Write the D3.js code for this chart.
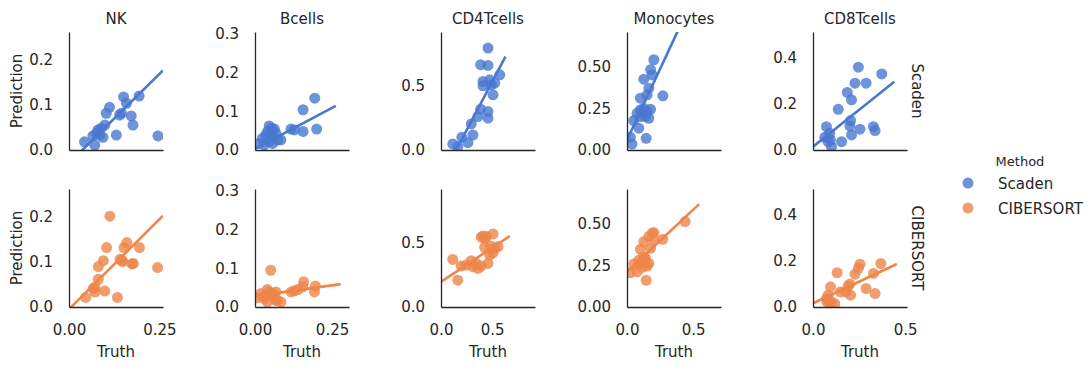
<!DOCTYPE html>
<html>
<head>
<meta charset="utf-8">
<script src="https://cdn.jsdelivr.net/npm/d3@7"></script>
<style>
  body { margin: 0; background: #fff; }
  svg { font-family: "DejaVu Sans", sans-serif; }
</style>
</head>
<body>
<div id="chart"></div>
<script>
const cellTypes = ['NK', 'Bcells', 'CD4Tcells', 'Monocytes', 'CD8Tcells'];
const methods = ['Scaden', 'CIBERSORT'];
const methodColors = ['#4878d0', '#ee854a'];

// axis upper limit per column (x and y share it)
const axisMax = [0.26, 0.305, 0.92, 0.71, 0.51];
const yTicks = [[0, 0.1, 0.2], [0, 0.1, 0.2, 0.3], [0, 0.5], [0, 0.25, 0.5], [0, 0.2, 0.4]];
const yTickLabels = [['0.0', '0.1', '0.2'], ['0.0', '0.1', '0.2', '0.3'], ['0.0', '0.5'], ['0.00', '0.25', '0.50'], ['0.0', '0.2', '0.4']];
const xTicks = [[0, 0.25], [0, 0.25], [0, 0.5], [0, 0.5], [0, 0.5]];
const xTickLabels = [['0.00', '0.25'], ['0.00', '0.25'], ['0.0', '0.5'], ['0.0', '0.5'], ['0.0', '0.5']];

// [truth, prediction]
const scadenNK = [[.043,.018],[.071,.011],[.066,.031],[.080,.044],[.085,.033],[.094,.028],[.076,.037],[.089,.048],[.099,.055],[.103,.081],[.112,.094],[.131,.033],[.145,.081],[.151,.117],[.159,.103],[.172,.075],[.177,.055],[.194,.119],[.246,.031],[.140,.077]];
const scadenBcells = [[.013,.017],[.024,.030],[.035,.039],[.030,.013],[.046,.062],[.052,.048],[.057,.035],[.063,.054],[.068,.043],[.074,.026],[.084,.026],[.046,.022],[.057,.017],[.041,.048],[.117,.054],[.128,.052],[.156,.048],[.156,.104],[.194,.134],[.200,.054],[.054,.056]];
const scadenCD4 = [[.115,.047],[.164,.026],[.204,.099],[.263,.057],[.312,.117],[.296,.203],[.361,.261],[.388,.318],[.460,.300],[.460,.248],[.388,.665],[.460,.659],[.460,.795],[.411,.534],[.411,.500],[.476,.547],[.509,.430],[.526,.521],[.575,.586],[.493,.508]];
const scadenMono = [[.038,.036],[.025,.077],[.051,.177],[.089,.131],[.101,.201],[.101,.241],[.127,.251],[.139,.201],[.152,.231],[.145,.070],[.165,.191],[.178,.245],[.101,.312],[.127,.426],[.152,.332],[.165,.372],[.178,.483],[.190,.452],[.203,.543],[.271,.326],[.076,.221]];
const scadenCD8 = [[.073,.101],[.064,.055],[.091,.072],[.082,.036],[.100,.014],[.095,.043],[.155,.036],[.137,.176],[.186,.249],[.209,.217],[.228,.289],[.246,.358],[.288,.289],[.204,.127],[.200,.104],[.209,.065],[.255,.090],[.328,.101],[.337,.084],[.373,.329]];

const ciberNK = [[.046,.021],[.072,.033],[.072,.044],[.081,.061],[.081,.089],[.095,.102],[.104,.131],[.099,.035],[.113,.200],[.134,.021],[.141,.105],[.149,.100],[.152,.131],[.160,.142],[.174,.095],[.178,.096],[.195,.131],[.245,.087],[.067,.041],[.146,.103]];
const ciberBcells = [[.008,.024],[.019,.035],[.035,.030],[.040,.045],[.046,.039],[.051,.095],[.057,.035],[.062,.026],[.068,.039],[.073,.017],[.084,.013],[.040,.013],[.030,.022],[.117,.039],[.128,.042],[.139,.045],[.155,.052],[.158,.065],[.193,.039],[.196,.054],[.068,.017]];
const ciberCD4 = [[.115,.371],[.164,.209],[.197,.319],[.246,.327],[.296,.361],[.312,.314],[.345,.340],[.361,.301],[.394,.544],[.411,.554],[.427,.536],[.444,.549],[.509,.570],[.460,.340],[.476,.405],[.486,.476],[.509,.423],[.526,.457],[.559,.471],[.427,.465],[.394,.319]];
const ciberMono = [[.025,.206],[.051,.258],[.076,.212],[.089,.282],[.101,.347],[.114,.238],[.127,.393],[.139,.292],[.145,.161],[.152,.246],[.165,.262],[.165,.424],[.178,.353],[.190,.444],[.203,.448],[.203,.407],[.271,.407],[.439,.514],[.127,.303],[.094,.262]];
const ciberCD8 = [[.076,.022],[.091,.017],[.100,.022],[.082,.051],[.095,.087],[.118,.014],[.131,.148],[.149,.065],[.178,.065],[.191,.090],[.204,.051],[.200,.099],[.228,.142],[.246,.167],[.255,.185],[.288,.080],[.328,.145],[.337,.058],[.368,.188],[.073,.036]];

// regression lines: [x start, x end, slope, intercept]
const scadenFits = [[0, .26, .785, -.029], [0, .262, .424, .003], [0, .631, 1.51, -.224], [0, .42, 1.71, .06], [0, .441, .638, .014]];
const ciberFits = [[0, .26, .793, -.005], [0, .278, .112, .028], [0, .674, .531, .196], [0, .545, .747, .212], [0, .455, .373, .016]];

const pointSets = [
  [scadenNK, scadenBcells, scadenCD4, scadenMono, scadenCD8],
  [ciberNK, ciberBcells, ciberCD4, ciberMono, ciberCD8]
];
const fitSets = [scadenFits, ciberFits];

const width = 1092, height = 370;
const left0 = 69, colStep = 186, panelW = 94;
const top0 = 32, rowStep = 157, panelH = 118;
const ink = '#262626';

const svg = d3.select('#chart').append('svg')
  .attr('width', width)
  .attr('height', height);

methods.forEach((method, r) => {
  cellTypes.forEach((cell, c) => {
    const x0 = left0 + c * colStep;
    const y0 = top0 + r * rowStep;
    const xScale = d3.scaleLinear().domain([0, axisMax[c]]).range([x0, x0 + panelW]);
    const yScale = d3.scaleLinear().domain([0, axisMax[c]]).range([y0 + panelH, y0]);

    const clipId = 'clip-' + r + '-' + c;
    svg.append('clipPath').attr('id', clipId)
      .append('rect')
      .attr('x', x0).attr('y', y0)
      .attr('width', panelW).attr('height', panelH);

    const g = svg.append('g');
    const plot = g.append('g').attr('clip-path', 'url(#' + clipId + ')');

    plot.selectAll('circle')
      .data(pointSets[r][c])
      .enter()
      .append('circle')
      .attr('cx', d => xScale(d[0]))
      .attr('cy', d => yScale(d[1]))
      .attr('r', 5.5)
      .attr('fill', methodColors[r])
      .attr('fill-opacity', 0.8);

    const fit = fitSets[r][c];
    const lineData = [fit[0], fit[1]].map(x => [x, fit[2] * x + fit[3]]);
    plot.append('path')
      .datum(lineData)
      .attr('d', d3.line().x(d => xScale(d[0])).y(d => yScale(d[1])))
      .attr('stroke', methodColors[r])
      .attr('stroke-width', 2.6)
      .attr('fill', 'none');

    // y axis
    const yAxis = d3.axisLeft(yScale)
      .tickValues(yTicks[c])
      .tickFormat((d, i) => yTickLabels[c][i])
      .tickSize(0)
      .tickPadding(16);
    const ya = g.append('g')
      .attr('transform', 'translate(' + x0 + ',0)')
      .call(yAxis);
    ya.select('.domain').attr('stroke', ink).attr('stroke-width', 1.3);
    ya.selectAll('text').attr('fill', ink).style('font-size', '15px').style('font-family', 'DejaVu Sans');

    // x axis
    const xAxis = d3.axisBottom(xScale)
      .tickValues(r === 1 ? xTicks[c] : [])
      .tickFormat((d, i) => xTickLabels[c][i])
      .tickSize(0)
      .tickPadding(17);
    const xa = g.append('g')
      .attr('transform', 'translate(0,' + (y0 + panelH) + ')')
      .call(xAxis);
    xa.select('.domain').attr('stroke', ink).attr('stroke-width', 1.3);
    xa.selectAll('text').attr('fill', ink).style('font-size', '15px').style('font-family', 'DejaVu Sans');

    if (r === 0) {
      svg.append('text')
        .attr('x', x0 + panelW / 2)
        .attr('y', 24)
        .attr('text-anchor', 'middle')
        .attr('fill', ink)
        .style('font-size', '15px')
        .text(cell);
    }
    if (r === 1) {
      svg.append('text')
        .attr('x', x0 + panelW / 2)
        .attr('y', 357)
        .attr('text-anchor', 'middle')
        .attr('fill', ink)
        .style('font-size', '15px')
        .text('Truth');
    }
    if (c === 0) {
      svg.append('text')
        .attr('transform', 'translate(22,' + (y0 + panelH / 2) + ') rotate(-90)')
        .attr('text-anchor', 'middle')
        .attr('fill', ink)
        .style('font-size', '15px')
        .text('Prediction');
    }
    if (c === cellTypes.length - 1) {
      svg.append('text')
        .attr('transform', 'translate(912,' + (y0 + panelH / 2) + ') rotate(90)')
        .attr('text-anchor', 'middle')
        .attr('fill', ink)
        .style('font-size', '15px')
        .text(method);
    }
  });
});

// legend
const legend = svg.append('g');
legend.append('text')
  .attr('x', 1020)
  .attr('y', 166)
  .attr('text-anchor', 'middle')
  .attr('fill', ink)
  .style('font-size', '13px')
  .text('Method');

methods.forEach((method, i) => {
  legend.append('circle')
    .attr('cx', 968)
    .attr('cy', 183 + i * 25)
    .attr('r', 5.5)
    .attr('fill', methodColors[i])
    .attr('fill-opacity', 0.8);
  legend.append('text')
    .attr('x', 998)
    .attr('y', 189 + i * 25)
    .attr('fill', ink)
    .style('font-size', '15px')
    .text(method);
});
</script>
</body>
</html>
